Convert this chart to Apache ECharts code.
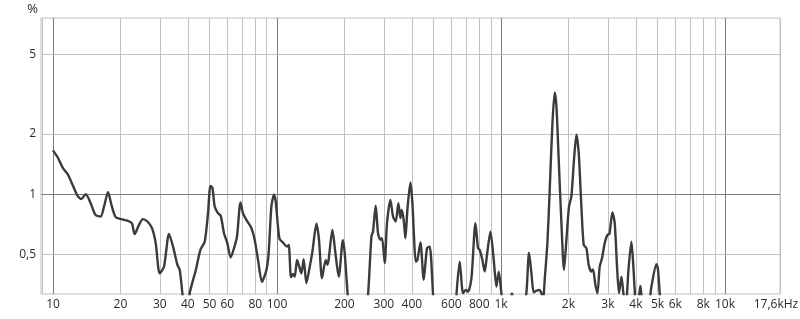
<!DOCTYPE html>
<html>
<head>
<meta charset="utf-8">
<script src="https://cdn.jsdelivr.net/npm/echarts@6/dist/echarts.min.js"></script>
<style>
html,body{margin:0;padding:0;background:#fff;}
#c{width:800px;height:319px;}
</style>
</head>
<body>
<div id="c"></div>
<script>
// Frequencies (Hz)
const freqs = [
  10, 10.53, 11.08, 11.67, 12.28, 12.93, 13.39, 13.99, 14.73, 15.47, 16.32, 16.9, 17.6, 18.23, 19.05,
  20.2, 21.6, 22.5, 23.15, 24.2, 25.2, 26.4, 27.67, 28.74, 29.95, 31.3, 32.96, 34.35, 35.93, 36.8,
  37.8, 38.6, 39.6, 40.8, 43.4, 45.5, 47.56, 49.2, 50.45, 51.5, 52.7, 54.5, 56.1, 58.0, 60.0,
  62.1, 64.3, 66.3, 68.7, 70.5, 73.0, 76.9, 79.5, 82.3, 85.7, 89.7, 91.8, 94.4, 97.0, 98.7,
  101, 102.8, 106.4, 110.8, 112.8, 115.5, 117.9, 120, 122.9, 126.3, 128.5, 131.5, 135.3, 140, 143.9,
  150, 154, 158.8, 165, 168, 176.7, 182.3, 188.6, 197, 200.6, 207.5, 215, 245, 254.8, 263.9,
  268.3, 275.8, 282.5, 289.5, 294.4, 302.6, 309.8, 320.8, 329.6, 338.8, 348.3, 355.5, 360.3, 367.8, 374.3,
  382, 394, 402.2, 408.9, 416.1, 423.5, 436.8, 451.8, 467.4, 480.5, 497, 510, 620, 632, 654,
  677, 696, 713, 738, 769, 789.5, 803.5, 826, 845.7, 866, 897, 928, 954, 977, 1004,
  1030, 1100, 1119, 1140, 1250, 1298, 1334, 1367, 1400, 1439, 1478, 1515, 1540, 1567, 1611,
  1650, 1697, 1737, 1768, 1810, 1861, 1911, 1959, 2012, 2062, 2118, 2171, 2223, 2285, 2340,
  2406, 2463, 2532, 2575, 2638, 2694, 2758, 2824, 2904, 2985, 3048, 3144, 3219, 3296, 3364,
  3448, 3519, 3600, 3716, 3821, 3899, 3980, 4080, 4191, 4300, 4550, 4693, 4941, 5022, 5111,
  5250
];
// Distortion values (%)
const thd = [
  1.655, 1.516, 1.35, 1.25, 1.10, 0.973, 0.944, 1.0, 0.901, 0.787, 0.772, 0.867, 1.023, 0.884, 0.767,
  0.749, 0.735, 0.715, 0.630, 0.701, 0.749, 0.729, 0.675, 0.568, 0.401, 0.433, 0.632, 0.546, 0.442, 0.417,
  0.319, 0.26, 0.26, 0.321, 0.417, 0.525, 0.578, 0.803, 1.10, 1.072, 0.867, 0.803, 0.778, 0.637, 0.568,
  0.481, 0.536, 0.613, 0.908, 0.803, 0.743, 0.675, 0.590, 0.468, 0.364, 0.417, 0.506, 0.867, 0.992, 0.918,
  0.688, 0.595, 0.572, 0.546, 0.557, 0.383, 0.398, 0.386, 0.468, 0.425, 0.401, 0.472, 0.358, 0.433, 0.515,
  0.710, 0.590, 0.379, 0.468, 0.442, 0.662, 0.506, 0.386, 0.590, 0.506, 0.30, 0.22, 0.22, 0.31, 0.613,
  0.649, 0.874, 0.637, 0.590, 0.601, 0.451, 0.715, 0.936, 0.772, 0.729, 0.901, 0.758, 0.834, 0.743, 0.601,
  0.834, 1.143, 0.901, 0.613, 0.459, 0.468, 0.572, 0.372, 0.536, 0.546, 0.319, 0.22, 0.22, 0.31, 0.459,
  0.319, 0.331, 0.325, 0.379, 0.715, 0.536, 0.525, 0.468, 0.409, 0.496, 0.649, 0.468, 0.344, 0.409, 0.319,
  0.25, 0.29, 0.318, 0.29, 0.25, 0.319, 0.509, 0.401, 0.322, 0.328, 0.331, 0.319, 0.29, 0.372, 0.568,
  1.051, 2.27, 3.23, 2.75, 1.486, 0.715, 0.417, 0.590, 0.867, 0.973, 1.486, 1.984, 1.606, 0.867, 0.557,
  0.536, 0.442, 0.409, 0.420, 0.351, 0.319, 0.433, 0.477, 0.568, 0.625, 0.632, 0.809, 0.715, 0.433, 0.319,
  0.386, 0.319, 0.27, 0.433, 0.578, 0.433, 0.3, 0.28, 0.347, 0.28, 0.28, 0.344, 0.445, 0.417, 0.319,
  0.22
];
// X gridlines and their tick labels ('' = no label)
const xGridValues = [9, 10, 20, 30, 40, 50, 60, 70, 80, 90, 100, 200, 300, 400, 500, 600, 700, 800, 900,
  1000, 2000, 3000, 4000, 5000, 6000, 7000, 8000, 9000, 10000];
const xGridLabels = ['', '10', '20', '30', '40', '50', '60', '', '80', '', '100', '200', '300', '400', '', '600', '', '800', '',
  '1k', '2k', '3k', '4k', '5k', '6k', '', '8k', '', '10k'];
const xMajor = [10, 100, 1000, 10000];
const xEndValue = 17600;
const xEndLabel = '17,6kHz';
// Y gridlines and tick labels
const yGridValues = [0.5, 1, 2, 5];
const yGridLabels = ['0,5', '1', '2', '5'];
const yMajor = [1];
const yUnit = '%';

const FONT = '"Open Sans", "Noto Sans", sans-serif';
const LIGHT = '#c2c2c2';
const DARK = '#7c7c7c';
const TXT = '#2a2a2a';

const lineData = freqs.map((f, i) => [f, thd[i]]);

const xLines = xGridValues.map((v, i) => ({
  xAxis: v,
  lineStyle: { color: xMajor.includes(v) ? DARK : LIGHT, width: 1, type: 'solid' },
  label: { show: xGridLabels[i] !== '', formatter: xGridLabels[i], position: 'start',
    color: TXT, fontFamily: FONT, fontSize: 12, distance: 5 }
}));
xLines.push({
  xAxis: xEndValue * 0.9995,
  lineStyle: { color: LIGHT, width: 1, type: 'solid' },
  label: { show: true, formatter: xEndLabel, position: 'start', color: TXT, fontFamily: FONT, fontSize: 12, distance: 5, offset: [-4, 0] }
});
const yLines = yGridValues.map((v, i) => ({
  yAxis: v,
  lineStyle: { color: yMajor.includes(v) ? DARK : LIGHT, width: 1, type: 'solid' },
  label: { show: true, formatter: yGridLabels[i], position: 'start',
    color: TXT, fontFamily: FONT, fontSize: 12, distance: 5 }
}));

const chart = echarts.init(document.getElementById('c'), null, { renderer: 'canvas' });
chart.setOption({
  animation: false,
  backgroundColor: '#ffffff',
  grid: { left: 41, right: 20, top: 18, bottom: 25, show: true, borderColor: LIGHT, borderWidth: 1, backgroundColor: 'transparent' },
  xAxis: {
    type: 'log', logBase: 10, min: 8.84, max: 17600,
    axisLine: { show: false }, axisTick: { show: false }, axisLabel: { show: false }, splitLine: { show: false }
  },
  yAxis: {
    type: 'log', logBase: 10, min: 0.316, max: 7.62,
    name: yUnit, nameLocation: 'end', nameGap: 9,
    nameTextStyle: { color: TXT, fontFamily: FONT, fontSize: 13, align: 'right', verticalAlign: 'middle', padding: [0, 3, 0, 0] },
    axisLine: { show: false }, axisTick: { show: false }, axisLabel: { show: false }, splitLine: { show: false }
  },
  series: [
    {
      type: 'line', data: lineData, silent: true, z: 1,
      showSymbol: false, symbol: 'none',
      lineStyle: { opacity: 0 },
      markLine: { silent: true, symbol: ['none', 'none'], animation: false, data: xLines.concat(yLines) }
    },
    {
      type: 'line', data: lineData, z: 5,
      showSymbol: false, symbol: 'none', smooth: 0.25, clip: true,
      lineStyle: { color: '#3b3b3b', width: 2.4 }
    }
  ]
});
</script>
</body>
</html>
